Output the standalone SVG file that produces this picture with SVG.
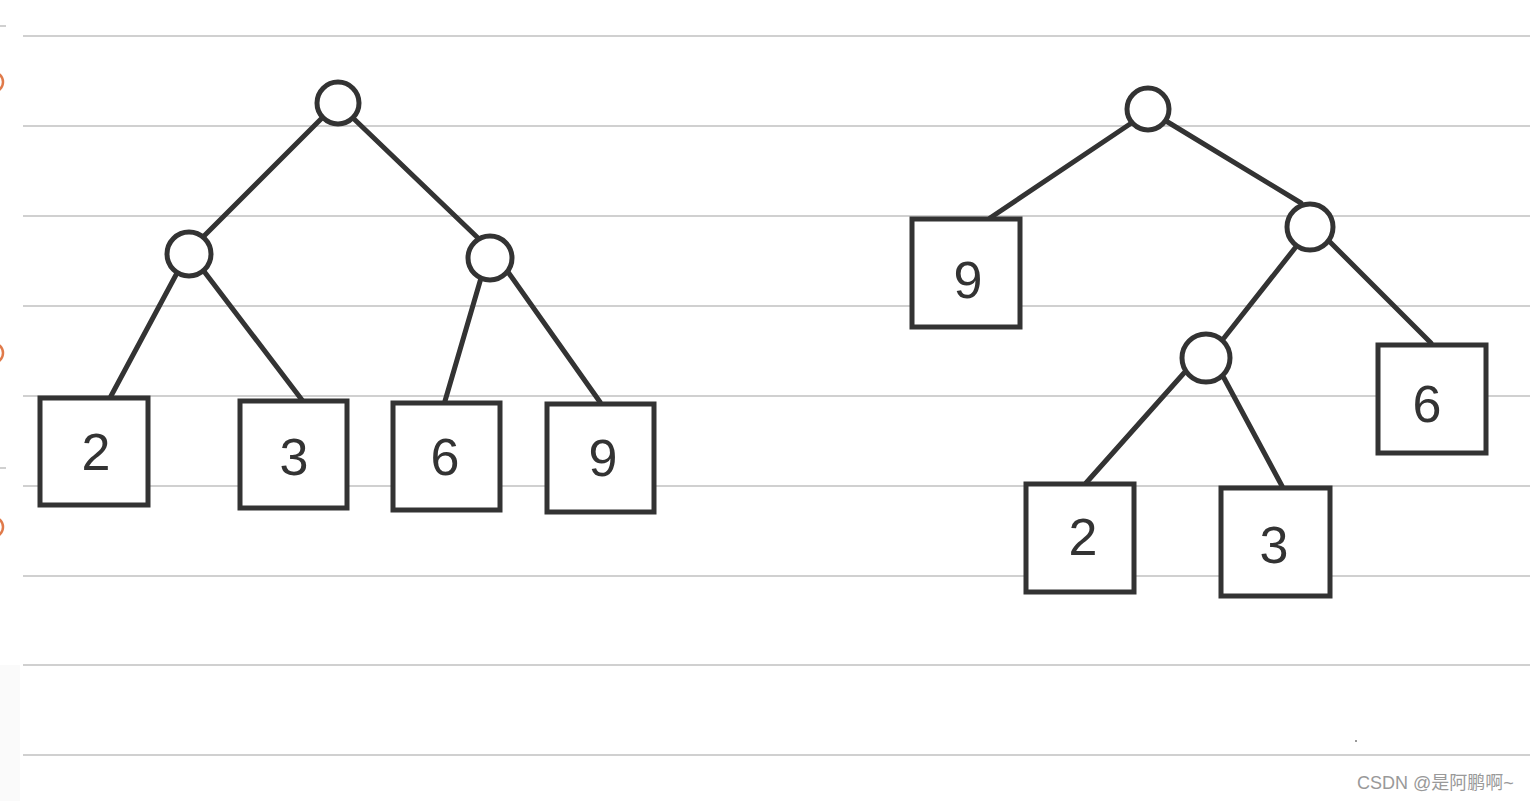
<svg xmlns="http://www.w3.org/2000/svg" width="1530" height="801" viewBox="0 0 1530 801">
<style>
.rule{stroke:#d0d0d0;stroke-width:2}
.edge{stroke:#333;stroke-width:5;stroke-linecap:round;fill:none}
.node{fill:#fff;stroke:#333;stroke-width:5}
.digit{font-family:"Liberation Sans",sans-serif;font-size:52px;fill:#333;text-anchor:middle;dominant-baseline:central}
.mark{fill:none;stroke:#e07a4a;stroke-width:2.5}
</style>
<rect width="1530" height="801" fill="#fff"/>
<rect x="0" y="665" width="20" height="136" fill="#fafafa"/>
<g id="rules">
<line class="rule" x1="23" y1="36" x2="1530" y2="36"/>
<line class="rule" x1="23" y1="126" x2="1530" y2="126"/>
<line class="rule" x1="23" y1="216" x2="1530" y2="216"/>
<line class="rule" x1="23" y1="306" x2="1530" y2="306"/>
<line class="rule" x1="23" y1="396" x2="1530" y2="396"/>
<line class="rule" x1="23" y1="486" x2="1530" y2="486"/>
<line class="rule" x1="23" y1="576" x2="1530" y2="576"/>
<line class="rule" x1="23" y1="665" x2="1530" y2="665"/>
<line class="rule" x1="23" y1="755" x2="1530" y2="755"/>
<line class="rule" x1="0" y1="26" x2="6" y2="26"/>
<line class="rule" x1="0" y1="468" x2="6" y2="468"/>
<circle class="mark" cx="-7" cy="82" r="10"/>
<circle class="mark" cx="-7" cy="353" r="10"/>
<circle class="mark" cx="-7" cy="527" r="10"/>
</g>
<g id="connectors">
<line class="edge" x1="322" y1="118" x2="203" y2="237"/>
<line class="edge" x1="353" y1="118" x2="478" y2="238"/>
<line class="edge" x1="177" y1="273" x2="111" y2="396"/>
<line class="edge" x1="203" y1="270" x2="302" y2="400"/>
<line class="edge" x1="481" y1="278" x2="445" y2="401"/>
<line class="edge" x1="508" y1="272" x2="600" y2="402"/>
<line class="edge" x1="1130" y1="124" x2="990" y2="218"/>
<line class="edge" x1="1166" y1="121" x2="1301" y2="203"/>
<line class="edge" x1="1295" y1="248" x2="1224" y2="338"/>
<line class="edge" x1="1330" y1="242" x2="1431" y2="343"/>
<line class="edge" x1="1184" y1="373" x2="1086" y2="483"/>
<line class="edge" x1="1224" y1="378" x2="1282" y2="486"/>
</g>
<g id="L-root"><circle class="node" cx="338" cy="103" r="21"/></g>
<g id="L-a"><circle class="node" cx="189" cy="254" r="22"/></g>
<g id="L-b"><circle class="node" cx="490" cy="258" r="22"/></g>
<g id="L-2"><rect class="node" x="40" y="398" width="108" height="107"/><text class="digit" x="96" y="452">2</text></g>
<g id="L-3"><rect class="node" x="240" y="401" width="107" height="107"/><text class="digit" x="294" y="457">3</text></g>
<g id="L-6"><rect class="node" x="393" y="403" width="107" height="107"/><text class="digit" x="445" y="457">6</text></g>
<g id="L-9"><rect class="node" x="547" y="404" width="107" height="108"/><text class="digit" x="603" y="458">9</text></g>
<g id="R-root"><circle class="node" cx="1148" cy="109" r="21"/></g>
<g id="R-9"><rect class="node" x="912" y="219" width="108" height="108"/><text class="digit" x="968" y="280">9</text></g>
<g id="R-a"><circle class="node" cx="1310" cy="227" r="23"/></g>
<g id="R-b"><circle class="node" cx="1206" cy="358" r="24"/></g>
<g id="R-6"><rect class="node" x="1378" y="345" width="108" height="108"/><text class="digit" x="1427" y="404">6</text></g>
<g id="R-2"><rect class="node" x="1026" y="484" width="108" height="108"/><text class="digit" x="1083" y="537">2</text></g>
<g id="R-3"><rect class="node" x="1221" y="488" width="109" height="108"/><text class="digit" x="1274" y="545">3</text></g>
<circle cx="1356" cy="741" r="1" fill="#777"/>
<text x="1357" y="789" font-family="'Liberation Sans','Noto Sans CJK SC',sans-serif" font-size="18" fill="#999">CSDN @是阿鹏啊~</text>
</svg>
